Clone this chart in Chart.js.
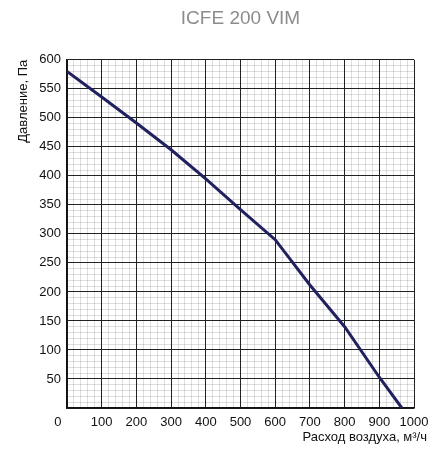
<!DOCTYPE html>
<html>
<head>
<meta charset="utf-8">
<title>ICFE 200 VIM</title>
<script src="https://cdn.jsdelivr.net/npm/chart.js@4/dist/chart.umd.min.js"></script>
<style>
  body { margin: 0; background: #fff; }
  canvas { display: block; }
</style>
</head>
<body>
<canvas id="myChart" width="445" height="450"></canvas>
<script>
// Данные кривой (расход, м3/ч -> давление, Па)
const airflow = [0, 100, 200, 300, 400, 500, 600, 700, 800, 900, 965];
const pressure = [580, 536, 491, 445, 395, 342, 290, 212, 140, 53, 0];

// подписи осей
const xTicks = [0, 100, 200, 300, 400, 500, 600, 700, 800, 900, 1000];
const yTicks = [50, 100, 150, 200, 250, 300, 350, 400, 450, 500, 550, 600];

const FONT = 'Liberation Sans, Arial, Helvetica, sans-serif';

// подпись оси X справа, чуть за краем сетки
const xTitlePlugin = {
    id: 'xTitle',
    afterDraw(chart) {
        const ctx = chart.ctx;
        const area = chart.chartArea;
        ctx.save();
        ctx.font = '13px ' + FONT;
        ctx.fillStyle = '#111';
        ctx.textAlign = 'right';
        ctx.textBaseline = 'alphabetic';
        ctx.fillText('Расход воздуха, м³/ч', area.right + 13, 441);
        ctx.restore();
    }
};

const ctx = document.getElementById('myChart');

new Chart(ctx, {
    type: 'line',
    data: {
        datasets: [{
            data: airflow.map((x, i) => ({ x: x, y: pressure[i] })),
            borderColor: '#21215f',
            borderWidth: 3,
            pointRadius: 0,
            tension: 0
        }]
    },
    options: {
        responsive: false,
        animation: false,
        layout: { padding: { left: 0, right: 31, top: 0, bottom: 0 } },
        plugins: {
            legend: { display: false },
            tooltip: { enabled: false },
            title: {
                display: true,
                text: 'ICFE 200 VIM',
                color: '#8c8c8c',
                fullSize: false,
                font: { family: FONT, size: 19, weight: 'normal' },
                padding: { top: 7, bottom: 30 }
            }
        },
        scales: {
            x: {
                type: 'linear',
                min: 0,
                max: 1000,
                afterFit: (s) => { s.height = 42; },
                ticks: {
                    stepSize: 20,
                    autoSkip: false,
                    maxRotation: 0,
                    padding: 7,
                    color: '#111',
                    font: { family: FONT, size: 13 },
                    callback: (v) => v === 0 ? '0     ' : (xTicks.includes(v) ? String(v) : '')
                },
                grid: {
                    drawTicks: false,
                    color: (c) => c.tick && c.tick.value % 100 === 0 ? '#222' : 'rgba(0,0,0,0.13)'
                },
                border: { color: '#111', width: 1.5 }
            },
            y: {
                min: 0,
                max: 600,
                afterFit: (s) => { s.width = 67; },
                ticks: {
                    stepSize: 10,
                    autoSkip: false,
                    padding: 6,
                    color: '#111',
                    font: { family: FONT, size: 13 },
                    callback: (v) => yTicks.includes(v) ? String(v) : ''
                },
                grid: {
                    drawTicks: false,
                    color: (c) => c.tick && c.tick.value % 50 === 0 ? '#222' : 'rgba(0,0,0,0.13)'
                },
                border: { color: '#111', width: 1.5 },
                title: {
                    display: true,
                    text: 'Давление, Па',
                    align: 'end',
                    color: '#111',
                    font: { family: FONT, size: 13 },
                    padding: { top: 16, bottom: 0 }
                }
            }
        }
    },
    plugins: [xTitlePlugin]
});
</script>
</body>
</html>
